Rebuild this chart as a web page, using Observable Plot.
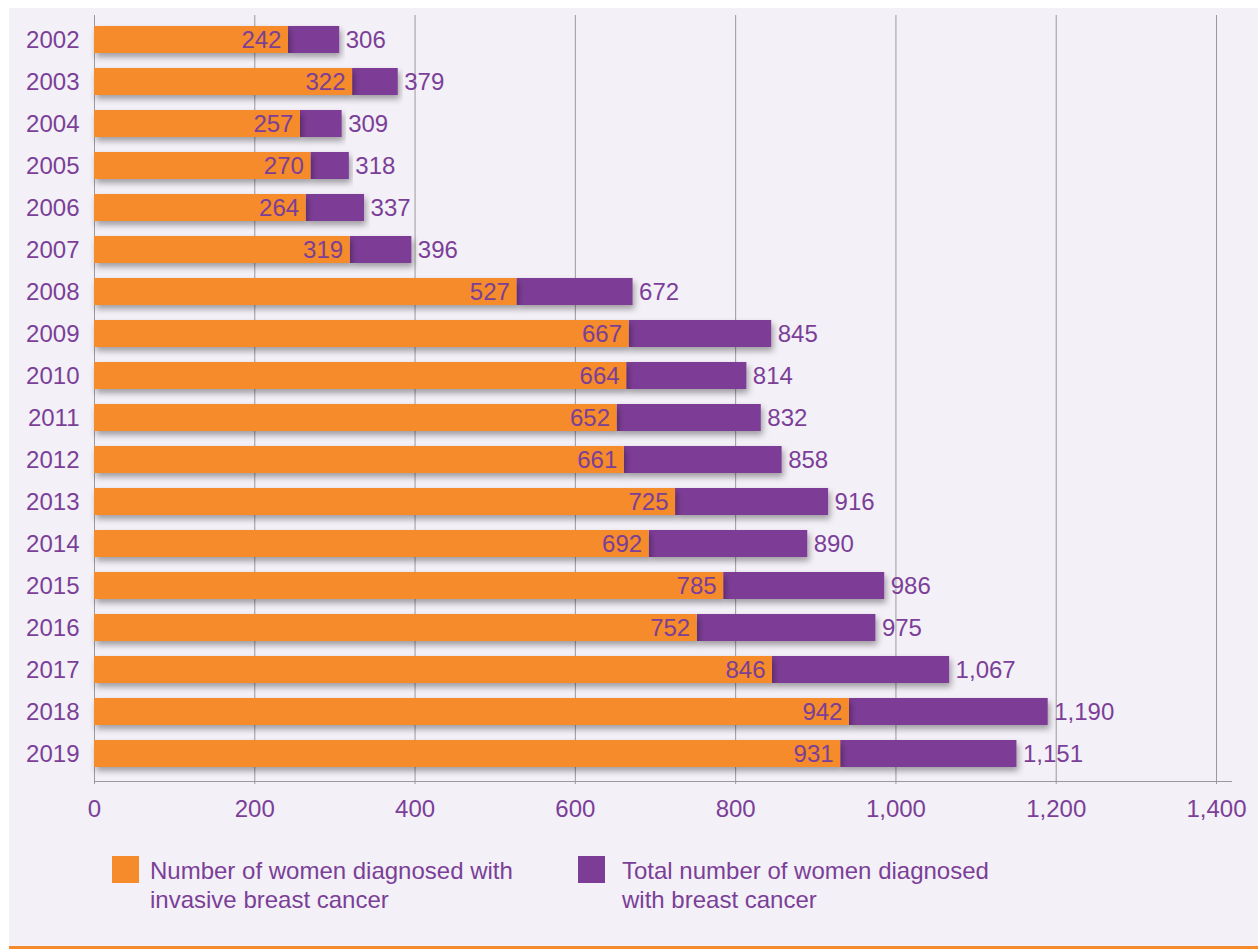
<!DOCTYPE html>
<html>
<head>
<meta charset="utf-8">
<script src="https://cdn.jsdelivr.net/npm/d3@7"></script>
<script src="https://cdn.jsdelivr.net/npm/@observablehq/plot@0.6"></script>
<style>
  html, body { margin: 0; padding: 0; background: #ffffff; width: 1258px; height: 949px; overflow: hidden; }
  #panel { position: absolute; left: 9px; top: 8px; width: 1249px; height: 938px; background: #f3f0f7; border-bottom: 3px solid #f58b2a; }
  #chart { position: absolute; left: 0; top: 0; }
  .legend-item { position: absolute; font-family: "Liberation Sans", Arial, sans-serif; font-size: 24px; line-height: 29px; color: #7b3f98; }
  .swatch { position: absolute; width: 27px; height: 27px; }
</style>
</head>
<body>
<div id="panel"></div>
<div id="chart"></div>
<div class="swatch" style="left:112px;top:856px;background:#f58b2a"></div>
<div class="legend-item" style="left:150px;top:856px">Number of women diagnosed with<br>invasive breast cancer</div>
<div class="swatch" style="left:578px;top:856px;background:#7d3c96"></div>
<div class="legend-item" style="left:622px;top:856px">Total number of women diagnosed<br>with breast cancer</div>
<script>
const years = ["2002","2003","2004","2005","2006","2007","2008","2009","2010","2011","2012","2013","2014","2015","2016","2017","2018","2019"];
const invasive = [242,322,257,270,264,319,527,667,664,652,661,725,692,785,752,846,942,931];
const total = [306,379,309,318,337,396,672,845,814,832,858,916,890,986,975,1067,1190,1151];
const xTicks = [0,200,400,600,800,1000,1200,1400];

const ORANGE = "#f58b2a", PURPLE = "#7d3c96", TEXT = "#7b3f98";
const data = years.map((y, i) => ({year: y, invasive: invasive[i], total: total[i]}));
const fmt = d3.format(",");

const plot = Plot.plot({
  width: 1258,
  height: 830,
  marginLeft: 94,
  marginRight: 27,
  marginTop: 15,
  marginBottom: 49,
  style: {background: "transparent", fontFamily: "Liberation Sans, Arial, sans-serif", fontSize: "24px", color: TEXT},
  x: {domain: [0, 1400], insetRight: 15, label: null},
  y: {domain: years, range: [10, 782.8], paddingInner: 0.359, paddingOuter: 0.359, label: null},
  marks: [
    Plot.gridX(xTicks, {stroke: "#9a9a9a", strokeOpacity: 1, strokeWidth: 1}),
    Plot.frame({anchor: "bottom", stroke: "#9a9a9a", strokeWidth: 1}),
    Plot.axisX({ticks: xTicks, tickFormat: fmt, tickSize: 3, tickPadding: 15, stroke: "#9a9a9a", fill: TEXT, fontSize: 24, label: null}),
    Plot.axisY({tickSize: 0, tickPadding: 15, fill: TEXT, fontSize: 24, label: null}),
    Plot.barX(data, {y: "year", x1: "invasive", x2: "total", fill: PURPLE, className: "shadowed"}),
    Plot.barX(data, {y: "year", x1: 0, x2: "invasive", fill: ORANGE, className: "shadowed"}),
    Plot.text(data, {y: "year", x: "invasive", text: d => fmt(d.invasive), textAnchor: "end", dx: -7, fill: TEXT, fontSize: 24}),
    Plot.text(data, {y: "year", x: "total", text: d => fmt(d.total), textAnchor: "start", dx: 6, fill: TEXT, fontSize: 24})
  ]
});

const svg = d3.select(plot);
const defs = svg.insert("defs", ":first-child");
const f = defs.append("filter").attr("id", "barshadow").attr("x", "-5%").attr("y", "-30%").attr("width", "115%").attr("height", "190%");
f.append("feDropShadow").attr("dx", 2).attr("dy", 4).attr("stdDeviation", 3).attr("flood-color", "#000").attr("flood-opacity", 0.35);
svg.selectAll("g.shadowed rect").attr("filter", "url(#barshadow)");

document.getElementById("chart").appendChild(plot);
</script>
</body>
</html>
